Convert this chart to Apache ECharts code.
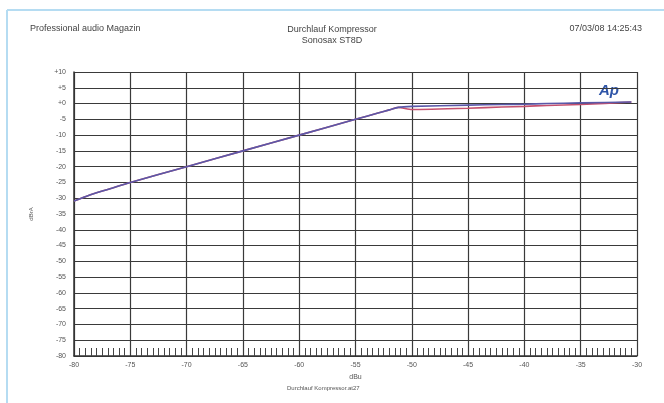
<!DOCTYPE html>
<html><head><meta charset="utf-8">
<script src="https://cdn.jsdelivr.net/npm/echarts@6/dist/echarts.min.js"></script>
<style>html,body{margin:0;padding:0;background:#fff}#c{width:664px;height:403px}</style>
</head><body><div id="c"></div>
<script>
const xTicks = [-80,-75,-70,-65,-60,-55,-50,-45,-40,-35,-30];
const yTicks = [10,5,0,-5,-10,-15,-20,-25,-30,-35,-40,-45,-50,-55,-60,-65,-70,-75,-80];
const inputLevel = [-80,-79,-78,-75,-70,-65,-60,-55,-53,-52,-51.2,-50,-45,-42,-40,-38,-35,-30.5];
const outBlue    = [-30.9,-29.5,-28.3,-25,-20,-15,-10,-5,-3,-2,-1.2,-0.9,-0.5,-0.3,-0.2,0.0,0.2,0.5];
const outRed     = [-30.9,-29.5,-28.3,-25,-20,-15,-10,-5,-3,-2,-1.2,-1.9,-1.5,-1.1,-0.9,-0.6,-0.3,0.5];

const chart = echarts.init(document.getElementById('c'));
const lbl = {fontFamily:'Liberation Sans, Arial', fontSize:7, color:'#555'};
chart.setOption({
  animation:false,
  backgroundColor:'#fff',
  grid:{left:74,right:27,top:72,bottom:47},
  xAxis:{type:'value',min:-80,max:-30,interval:5,
    axisLine:{show:true,onZero:false,lineStyle:{color:'#333',width:1.5}},
    axisTick:{show:true,inside:true,length:0},
    minorTick:{show:true,splitNumber:10,length:8,lineStyle:{color:'#444',width:1}},
    splitLine:{show:true,lineStyle:{color:'#3a3a3a',width:1.2}},
    axisLabel:Object.assign({margin:6,formatter:v=>xTicks.includes(v)?String(v):''},lbl),
    name:'dBu',nameLocation:'middle',nameGap:17,
    nameTextStyle:{fontFamily:'Liberation Sans, Arial',fontSize:7,color:'#555'}
  },
  yAxis:{type:'value',min:-80,max:10,interval:5,
    axisLine:{show:true,onZero:false,lineStyle:{color:'#333',width:1.5}},
    axisTick:{show:false},
    splitLine:{show:true,lineStyle:{color:'#3a3a3a',width:1.2}},
    axisLabel:Object.assign({margin:8,formatter:v=>yTicks.includes(v)?(v>0?'+'+v:(v===0?'+0':String(v))):''},lbl),
    name:'dBrA',nameLocation:'middle',nameGap:40,nameRotate:90,
    nameTextStyle:{fontFamily:'Liberation Sans, Arial',fontSize:6,color:'#555'}
  },
  series:[
    {type:'line',data:inputLevel.map((x,i)=>[x,outRed[i]]),showSymbol:false,smooth:0.2,
     lineStyle:{color:'#c4506e',width:1.6},z:2},
    {type:'line',data:inputLevel.map((x,i)=>[x,outBlue[i]]),showSymbol:false,smooth:0.2,
     lineStyle:{color:'#5a58a8',width:1.6},z:3}
  ],
  graphic:[
    {type:'line',shape:{x1:7,y1:10,x2:664,y2:10},style:{stroke:'#b5dcf2',lineWidth:2}},
    {type:'line',shape:{x1:7,y1:10,x2:7,y2:403},style:{stroke:'#b5dcf2',lineWidth:2}},
    {type:'text',left:30,top:24,style:{text:'Professional audio Magazin',font:'9px Liberation Sans, Arial',fill:'#444'}},
    {type:'text',left:'center',top:24,style:{text:'Durchlauf Kompressor\nSonosax ST8D',font:'9px Liberation Sans, Arial',fill:'#444',textAlign:'center',lineHeight:11}},
    {type:'text',right:22,top:24,style:{text:'07/03/08 14:25:43',font:'9px Liberation Sans, Arial',fill:'#444'}},
    {type:'text',left:599,top:83,style:{text:'Ap',font:'italic bold 15px Liberation Sans, Arial',fill:'#2f55a8'}},
    {type:'text',left:287,top:385,style:{text:'Durchlauf Kompressor.at27',font:'6px Liberation Sans, Arial',fill:'#555'}}
  ]
});
</script></body></html>
